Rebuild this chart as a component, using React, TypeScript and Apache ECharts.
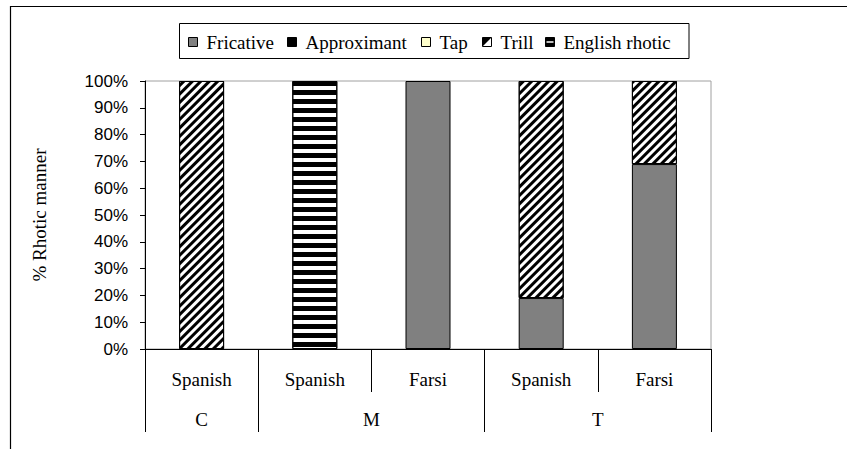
import React, { useEffect, useRef } from "react";
import * as echarts from "echarts";

// ---- data ----
const categoryKeys = ["C|Spanish", "M|Spanish", "M|Farsi", "T|Spanish", "T|Farsi"];
const groupLabels = ["C", "M", "T"];
const groupCenters = [0.5, 2, 4]; // position in category units
const groupStarts = [0, 1, 3];
const fricative = [0, 0, 100, 19, 69];
const approximant = [0, 0, 0, 0, 0];
const tap = [0, 0, 0, 0, 0];
const trill = [100, 0, 0, 81, 31];
const englishRhotic = [0, 100, 0, 0, 0];
const seriesNames = ["Fricative", "Approximant", "Tap", "Trill", "English rhotic"];

const SERIF = "Liberation Serif";
const SANS = "Liberation Sans";

const trillDecal = {
  symbol: "rect",
  symbolSize: 1,
  color: "#000",
  backgroundColor: "#fff",
  dashArrayX: [1, 0],
  dashArrayY: [2.6, 3],
  rotation: -Math.PI / 4,
};
const englishDecal = {
  symbol: "rect",
  symbolSize: 1,
  color: "#000",
  backgroundColor: "#fff",
  dashArrayX: [1, 0],
  dashArrayY: [4.3, 3.4],
  rotation: 0,
};

function nz(arr: number[]) {
  return arr.map((v) => (v === 0 ? null : v));
}

export default function App() {
  const ref = useRef<HTMLDivElement>(null);
  useEffect(() => {
    if (!ref.current) return;
    const chart = echarts.init(ref.current, undefined, { renderer: "svg" });

    const mkSeries = (name: string, data: number[], itemStyle: any) => ({
      name,
      type: "bar",
      stack: "total",
      barWidth: 45,
      xAxisIndex: 0,
      yAxisIndex: 0,
      data: nz(data),
      itemStyle: { borderColor: "#000", borderWidth: 1, ...itemStyle },
    });

    const legendY = 42;
    const legendItems = [
      { name: seriesNames[0], sx: 188.5 },
      { name: seriesNames[1], sx: 287.5 },
      { name: seriesNames[2], sx: 421.5 },
      { name: seriesNames[3], sx: 482.5 },
      { name: seriesNames[4], sx: 545.5 },
    ];
    const sq = 9;
    const legendGraphics: any[] = [];
    legendItems.forEach((it, i) => {
      const x = it.sx;
      const y = legendY - sq / 2;
      const fills = ["#808080", "#000", "#FFFFCC", "#fff", "#000"];
      legendGraphics.push({
        type: "rect",
        shape: { x, y, width: sq, height: sq },
        style: { fill: fills[i], stroke: "#000", lineWidth: 1 },
      });
      if (i === 3) {
        legendGraphics.push({
          type: "polygon",
          shape: { points: [[x, y], [x, y + sq], [x + sq, y]] },
          style: { fill: "#000" },
        });
      }
      if (i === 4) {
        legendGraphics.push({
          type: "line",
          shape: { x1: x + 1, y1: y + sq / 2, x2: x + sq - 1, y2: y + sq / 2 },
          style: { stroke: "#fff", lineWidth: 1.5 },
        });
      }
      legendGraphics.push({
        type: "text",
        x: x + sq + 9,
        y: legendY,
        style: {
          text: it.name,
          fontFamily: SERIF,
          fontSize: 19,
          fill: "#000",
          verticalAlign: "middle",
          align: "left",
        },
      });
    });

    chart.setOption({
      animation: false,
      backgroundColor: "#fff",
      textStyle: { fontFamily: SERIF },
      grid: {
        left: 145,
        right: 136,
        top: 81,
        bottom: 100,
        show: true,
        borderColor: "#a0a0a0",
        borderWidth: 1,
        backgroundColor: "transparent",
      },
      xAxis: [
        {
          type: "category",
          data: categoryKeys,
          position: "bottom",
          axisLine: { show: true, lineStyle: { color: "#000", width: 1 } },
          axisTick: { show: true, length: 43, lineStyle: { color: "#000" } },
          axisLabel: {
            formatter: (v: string) => v.split("|")[1],
            fontFamily: SERIF,
            fontSize: 19,
            lineHeight: 19,
            color: "#000",
            margin: 21,
            interval: 0,
          },
          splitLine: { show: false },
        },
        {
          type: "category",
          data: categoryKeys,
          position: "bottom",
          axisLine: { show: false },
          axisTick: {
            show: true,
            length: 83,
            interval: (idx: number) => groupStarts.indexOf(idx) >= 0,
            lineStyle: { color: "#000" },
          },
          axisLabel: { show: false },
          splitLine: { show: false },
        },
        {
          type: "value",
          min: 0,
          max: 5,
          interval: 0.5,
          position: "bottom",
          axisLine: { show: false },
          axisTick: { show: false },
          splitLine: { show: false },
          axisLabel: {
            formatter: (v: number) => {
              const k = groupCenters.indexOf(v);
              return k >= 0 ? groupLabels[k] : "";
            },
            fontFamily: SERIF,
            fontSize: 19,
            lineHeight: 19,
            color: "#000",
            margin: 61,
            showMinLabel: true,
            showMaxLabel: true,
          },
        },
      ],
      yAxis: {
        type: "value",
        min: 0,
        max: 100,
        interval: 10,
        name: "% Rhotic manner",
        nameLocation: "middle",
        nameRotate: 90,
        nameGap: 96,
        nameTextStyle: { fontFamily: SERIF, fontSize: 19, color: "#000" },
        axisLine: { show: true, lineStyle: { color: "#000", width: 1 } },
        axisTick: { show: true, length: 5, lineStyle: { color: "#000" } },
        splitLine: { show: false },
        axisLabel: {
          formatter: "{value}%",
          fontFamily: SANS,
          fontSize: 17,
          color: "#000",
          margin: 17,
        },
      },
      series: [
        mkSeries(seriesNames[0], fricative, { color: "#808080" }),
        mkSeries(seriesNames[1], approximant, { color: "#000" }),
        mkSeries(seriesNames[2], tap, { color: "#FFFFCC" }),
        mkSeries(seriesNames[3], trill, { color: "#fff", decal: trillDecal }),
        mkSeries(seriesNames[4], englishRhotic, { color: "#fff", decal: englishDecal }),
      ],
      graphic: [
        {
          type: "rect",
          shape: { x: 10.5, y: 6.5, width: 900, height: 500 },
          style: { fill: "none", stroke: "#000", lineWidth: 1.2 },
          silent: true,
          z: -10,
        },
        {
          type: "rect",
          shape: { x: 179.5, y: 23.5, width: 509.5, height: 35 },
          style: { fill: "#fff", stroke: "#000", lineWidth: 1 },
        },
        ...legendGraphics,
      ],
    });
    return () => chart.dispose();
  }, []);
  return (
    <div
      ref={ref}
      style={{ position: "fixed", left: 0, top: 0, width: 847, height: 449, background: "#fff" }}
    />
  );
}
